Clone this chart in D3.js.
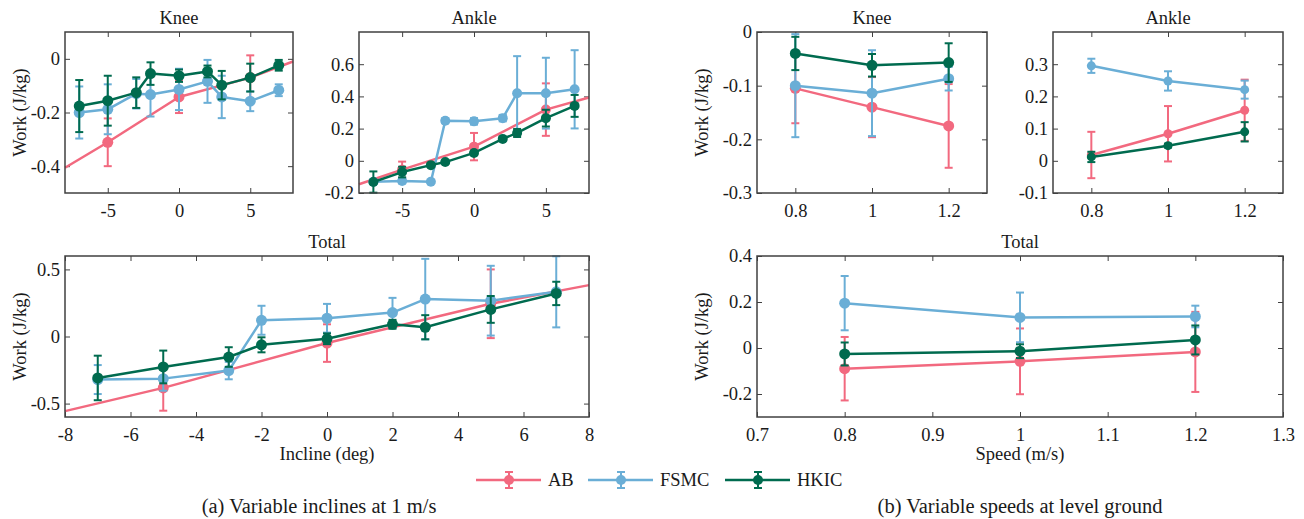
<!DOCTYPE html>
<html>
<head>
<meta charset="utf-8">
<script src="https://cdn.jsdelivr.net/npm/d3@7"></script>
<style>
  html, body { margin: 0; padding: 0; background: #fff; }
  svg { display: block; }
</style>
</head>
<body>
<script>
// ---------- data ----------
const inclines = [-7, -5, -3, -2, 0, 2, 3, 5, 7];
const abInclines = [-5, 0, 5];
const inclineRange = [-8, 8];
const speeds = [0.8, 1.0, 1.2];

// Knee work vs incline
const kneeIncAB = [-0.311, -0.142, -0.070];
const kneeIncABErr = [0.089, 0.060, 0.083];
const kneeIncABEnds = [-0.406, -0.010];
const kneeIncFSMC = [-0.200, -0.188, -0.130, -0.133, -0.114, -0.084, -0.142, -0.158, -0.117];
const kneeIncFSMCErr = [0.097, 0.093, 0.055, 0.082, 0.077, 0.080, 0.079, 0.037, 0.022];
const kneeIncHKIC = [-0.176, -0.156, -0.126, -0.055, -0.063, -0.047, -0.098, -0.070, -0.024];
const kneeIncHKICErr = [0.097, 0.093, 0.057, 0.042, 0.023, 0.022, 0.053, 0.052, 0.020];

// Ankle work vs incline
const ankleIncAB = [-0.055, 0.088, 0.318];
const ankleIncABErr = [0.050, 0.085, 0.163];
const ankleIncABEnds = [-0.146, 0.393];
const ankleIncFSMC = [-0.130, -0.125, -0.130, 0.249, 0.245, 0.265, 0.420, 0.420, 0.444];
const ankleIncFSMCErr = [0.012, 0.015, 0.008, 0.015, 0.020, 0.020, 0.230, 0.220, 0.243];
const ankleIncHKIC = [-0.132, -0.070, -0.027, -0.008, 0.049, 0.136, 0.173, 0.265, 0.341];
const ankleIncHKICErr = [0.066, 0.033, 0.010, 0.010, 0.012, 0.012, 0.025, 0.052, 0.068];

// Total work vs incline
const totalIncAB = [-0.383, -0.049, 0.244];
const totalIncABErr = [0.170, 0.140, 0.256];
const totalIncABEnds = [-0.556, 0.383];
const totalIncFSMC = [-0.321, -0.314, -0.254, 0.121, 0.136, 0.178, 0.279, 0.267, 0.333];
const totalIncFSMCErr = [0.108, 0.090, 0.065, 0.108, 0.107, 0.110, 0.300, 0.260, 0.265];
const totalIncHKIC = [-0.309, -0.227, -0.153, -0.062, -0.017, 0.091, 0.069, 0.202, 0.321];
const totalIncHKICErr = [0.166, 0.122, 0.073, 0.056, 0.040, 0.033, 0.090, 0.100, 0.087];

// Knee work vs speed
const kneeSpdAB = [-0.105, -0.140, -0.175];
const kneeSpdABErr = [0.065, 0.056, 0.078];
const kneeSpdFSMC = [-0.100, -0.114, -0.087];
const kneeSpdFSMCErr = [0.096, 0.080, 0.022];
const kneeSpdHKIC = [-0.040, -0.062, -0.057];
const kneeSpdHKICErr = [0.031, 0.021, 0.036];

// Ankle work vs speed
const ankleSpdAB = [0.018, 0.084, 0.157];
const ankleSpdABErr = [0.072, 0.086, 0.095];
const ankleSpdFSMC = [0.295, 0.248, 0.221];
const ankleSpdFSMCErr = [0.022, 0.030, 0.028];
const ankleSpdHKIC = [0.012, 0.047, 0.090];
const ankleSpdHKICErr = [0.016, 0.006, 0.030];

// Total work vs speed
const totalSpdAB = [-0.090, -0.058, -0.017];
const totalSpdABErr = [0.138, 0.143, 0.174];
const totalSpdFSMC = [0.195, 0.133, 0.137];
const totalSpdFSMCErr = [0.118, 0.108, 0.047];
const totalSpdHKIC = [-0.026, -0.014, 0.035];
const totalSpdHKICErr = [0.050, 0.030, 0.063];

// tick values
const inclineTicksTop = [-5, 0, 5];
const inclineTicksTotal = [-8, -6, -4, -2, 0, 2, 4, 6, 8];
const speedTicksTop = [0.8, 1.0, 1.2];
const speedTicksTotal = [0.7, 0.8, 0.9, 1.0, 1.1, 1.2, 1.3];
const kneeIncYTicks = [-0.4, -0.2, 0];
const ankleIncYTicks = [-0.2, 0, 0.2, 0.4, 0.6];
const totalIncYTicks = [-0.5, 0, 0.5];
const kneeSpdYTicks = [-0.3, -0.2, -0.1, 0];
const ankleSpdYTicks = [-0.1, 0, 0.1, 0.2, 0.3];
const totalSpdYTicks = [-0.2, 0, 0.2, 0.4];

const groups = ["AB", "FSMC", "HKIC"];
const colors = { AB: "#F2697F", FSMC: "#6AAED6", HKIC: "#006B4F" };

// ---------- drawing ----------
const W = 1304, H = 519;
const FONT = "'Liberation Serif', 'Times New Roman', serif";
const FS = 18.5;
const AXIS = "#404040";
const TEXT = "#1a1a1a";

const svg = d3.select("body").append("svg").attr("width", W).attr("height", H)
  .style("font-family", FONT);
svg.append("rect").attr("width", W).attr("height", H).attr("fill", "#fff");

const fmt = d => String(+(+d).toFixed(3));

function styleAxis(sel) {
  sel.select(".domain").remove();
  sel.selectAll(".tick line").attr("stroke", AXIS).attr("stroke-width", 1);
  sel.selectAll(".tick text").attr("fill", TEXT).style("font-size", FS + "px").style("font-family", FONT);
}

function drawSeries(g, x, y, xs, ys, errs, color, r, lineXs, lineYs) {
  const pts = lineXs ? d3.zip(lineXs, lineYs) : d3.zip(xs, ys);
  const line = d3.line().x(d => x(d[0])).y(d => y(d[1]));
  g.append("path").attr("d", line(pts)).attr("fill", "none")
    .attr("stroke", color).attr("stroke-width", 2.5).attr("stroke-linejoin", "round");

  const data = xs.map((v, i) => ({ x: v, y: ys[i], e: errs[i] }));
  const cap = 4;
  const eb = g.append("g").attr("stroke", color).attr("stroke-width", 2);
  eb.selectAll(".v").data(data).join("line")
    .attr("x1", d => x(d.x)).attr("x2", d => x(d.x))
    .attr("y1", d => y(d.y - d.e)).attr("y2", d => y(d.y + d.e));
  eb.selectAll(".t").data(data).join("line")
    .attr("x1", d => x(d.x) - cap).attr("x2", d => x(d.x) + cap)
    .attr("y1", d => y(d.y + d.e)).attr("y2", d => y(d.y + d.e));
  eb.selectAll(".b").data(data).join("line")
    .attr("x1", d => x(d.x) - cap).attr("x2", d => x(d.x) + cap)
    .attr("y1", d => y(d.y - d.e)).attr("y2", d => y(d.y - d.e));

  g.append("g").selectAll("circle").data(data).join("circle")
    .attr("cx", d => x(d.x)).attr("cy", d => y(d.y)).attr("r", r)
    .attr("fill", color);
}

function panel(o) {
  const x = d3.scaleLinear().domain(o.xDomain).range([o.left, o.right]);
  const y = d3.scaleLinear().domain(o.yDomain).range([o.bottom, o.top]);
  const g = svg.append("g");
  const tl = 5;

  g.append("g").attr("transform", `translate(0,${o.bottom})`)
    .call(d3.axisBottom(x).tickValues(o.xTicks).tickSizeInner(-tl).tickSizeOuter(0).tickPadding(11).tickFormat(fmt))
    .call(styleAxis);
  g.append("g").attr("transform", `translate(0,${o.top})`)
    .call(d3.axisTop(x).tickValues(o.xTicks).tickSizeInner(-tl).tickSizeOuter(0).tickFormat(""))
    .call(styleAxis);
  g.append("g").attr("transform", `translate(${o.left},0)`)
    .call(d3.axisLeft(y).tickValues(o.yTicks).tickSizeInner(-tl).tickSizeOuter(0).tickPadding(5).tickFormat(fmt))
    .call(styleAxis);
  g.append("g").attr("transform", `translate(${o.right},0)`)
    .call(d3.axisRight(y).tickValues(o.yTicks).tickSizeInner(-tl).tickSizeOuter(0).tickFormat(""))
    .call(styleAxis);

  const plot = g.append("g");
  o.series.forEach(s => drawSeries(plot, x, y, s.xs, s.ys, s.errs, colors[s.name], o.r, s.lineXs, s.lineYs));

  g.append("rect").attr("x", o.left).attr("y", o.top)
    .attr("width", o.right - o.left).attr("height", o.bottom - o.top)
    .attr("fill", "none").attr("stroke", AXIS).attr("stroke-width", 1.5);

  g.append("text").attr("x", (o.left + o.right) / 2).attr("y", o.top - 8)
    .attr("text-anchor", "middle").attr("fill", TEXT).style("font-size", FS + "px").text(o.title);

  if (o.yLabelX !== undefined) {
    g.append("text")
      .attr("transform", `translate(${o.yLabelX},${(o.top + o.bottom) / 2}) rotate(-90)`)
      .attr("text-anchor", "middle").attr("fill", TEXT).style("font-size", FS + "px")
      .text("Work (J/kg)");
  }
  if (o.xLabel) {
    g.append("text").attr("x", (o.left + o.right) / 2).attr("y", o.bottom + 43)
      .attr("text-anchor", "middle").attr("fill", TEXT).style("font-size", FS + "px").text(o.xLabel);
  }
}

const abLine = (vals, ends) => ({
  lineXs: [inclineRange[0], ...abInclines, inclineRange[1]],
  lineYs: [ends[0], ...vals, ends[1]]
});

// (a) inclines
panel({
  left: 65, right: 293, top: 32, bottom: 193,
  xDomain: inclineRange, yDomain: [-0.5, 0.1],
  xTicks: inclineTicksTop, yTicks: kneeIncYTicks, title: "Knee", yLabelX: 26, r: 5.5,
  series: [
    { name: "AB", xs: abInclines, ys: kneeIncAB, errs: kneeIncABErr, ...abLine(kneeIncAB, kneeIncABEnds) },
    { name: "FSMC", xs: inclines, ys: kneeIncFSMC, errs: kneeIncFSMCErr },
    { name: "HKIC", xs: inclines, ys: kneeIncHKIC, errs: kneeIncHKICErr }
  ]
});
panel({
  left: 359, right: 589, top: 32, bottom: 193,
  xDomain: inclineRange, yDomain: [-0.2, 0.8],
  xTicks: inclineTicksTop, yTicks: ankleIncYTicks, title: "Ankle", r: 5,
  series: [
    { name: "AB", xs: abInclines, ys: ankleIncAB, errs: ankleIncABErr, ...abLine(ankleIncAB, ankleIncABEnds) },
    { name: "FSMC", xs: inclines, ys: ankleIncFSMC, errs: ankleIncFSMCErr },
    { name: "HKIC", xs: inclines, ys: ankleIncHKIC, errs: ankleIncHKICErr }
  ]
});
panel({
  left: 65, right: 589, top: 256, bottom: 417,
  xDomain: inclineRange, yDomain: [-0.6, 0.6],
  xTicks: inclineTicksTotal, yTicks: totalIncYTicks, title: "Total", yLabelX: 26, r: 5.5,
  xLabel: "Incline (deg)",
  series: [
    { name: "AB", xs: abInclines, ys: totalIncAB, errs: totalIncABErr, ...abLine(totalIncAB, totalIncABEnds) },
    { name: "FSMC", xs: inclines, ys: totalIncFSMC, errs: totalIncFSMCErr },
    { name: "HKIC", xs: inclines, ys: totalIncHKIC, errs: totalIncHKICErr }
  ]
});

// (b) speeds
panel({
  left: 757, right: 987, top: 32, bottom: 193,
  xDomain: [0.7, 1.3], yDomain: [-0.3, 0],
  xTicks: speedTicksTop, yTicks: kneeSpdYTicks, title: "Knee", yLabelX: 708, r: 5.5,
  series: [
    { name: "AB", xs: speeds, ys: kneeSpdAB, errs: kneeSpdABErr },
    { name: "FSMC", xs: speeds, ys: kneeSpdFSMC, errs: kneeSpdFSMCErr },
    { name: "HKIC", xs: speeds, ys: kneeSpdHKIC, errs: kneeSpdHKICErr }
  ]
});
panel({
  left: 1053, right: 1283, top: 32, bottom: 193,
  xDomain: [0.7, 1.3], yDomain: [-0.1, 0.4],
  xTicks: speedTicksTop, yTicks: ankleSpdYTicks, title: "Ankle", r: 4.5,
  series: [
    { name: "AB", xs: speeds, ys: ankleSpdAB, errs: ankleSpdABErr },
    { name: "FSMC", xs: speeds, ys: ankleSpdFSMC, errs: ankleSpdFSMCErr },
    { name: "HKIC", xs: speeds, ys: ankleSpdHKIC, errs: ankleSpdHKICErr }
  ]
});
panel({
  left: 757, right: 1283, top: 256, bottom: 417,
  xDomain: [0.7, 1.3], yDomain: [-0.3, 0.4],
  xTicks: speedTicksTotal, yTicks: totalSpdYTicks, title: "Total", yLabelX: 708, r: 5.5,
  xLabel: "Speed (m/s)",
  series: [
    { name: "AB", xs: speeds, ys: totalSpdAB, errs: totalSpdABErr },
    { name: "FSMC", xs: speeds, ys: totalSpdFSMC, errs: totalSpdFSMCErr },
    { name: "HKIC", xs: speeds, ys: totalSpdHKIC, errs: totalSpdHKICErr }
  ]
});

// legend
const legendX = d3.scalePoint().domain(groups).range([476, 725]);
const legY = 480;
const leg = svg.append("g");
groups.forEach(name => {
  const x0 = legendX(name) + (name === "FSMC" ? -12.5 : 0);
  const c = colors[name];
  const it = leg.append("g");
  it.append("line").attr("x1", x0).attr("x2", x0 + 65).attr("y1", legY).attr("y2", legY)
    .attr("stroke", c).attr("stroke-width", 2.5);
  const cx = x0 + 33;
  it.append("line").attr("x1", cx).attr("x2", cx).attr("y1", legY - 8).attr("y2", legY + 8)
    .attr("stroke", c).attr("stroke-width", 2);
  [-8, 8].forEach(dy => it.append("line").attr("x1", cx - 4).attr("x2", cx + 4)
    .attr("y1", legY + dy).attr("y2", legY + dy).attr("stroke", c).attr("stroke-width", 2));
  it.append("circle").attr("cx", cx).attr("cy", legY).attr("r", 5).attr("fill", c);
  it.append("text").attr("x", x0 + 72).attr("y", legY).attr("dy", "0.35em")
    .attr("fill", TEXT).style("font-size", FS + "px").text(name);
});

// captions
svg.append("text").attr("x", 319).attr("y", 513).attr("text-anchor", "middle")
  .attr("fill", TEXT).style("font-size", "20.5px").text("(a) Variable inclines at 1 m/s");
svg.append("text").attr("x", 1020).attr("y", 513).attr("text-anchor", "middle")
  .attr("fill", TEXT).style("font-size", "20.5px").text("(b) Variable speeds at level ground");
</script>
</body>
</html>
